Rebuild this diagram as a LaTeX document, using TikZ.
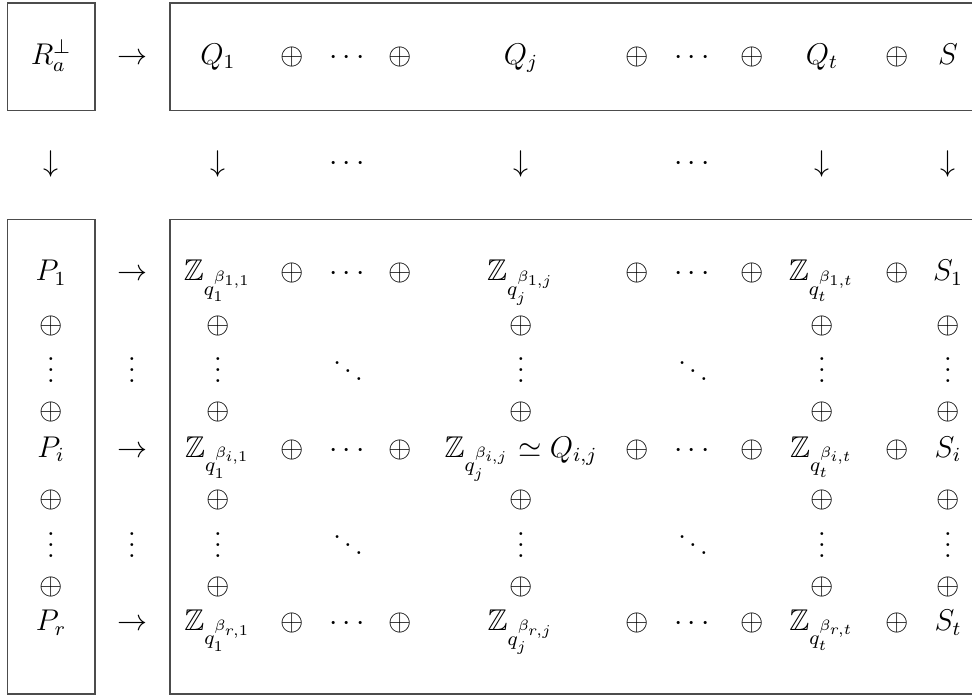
\documentclass[tikz,border=0pt]{standalone}
\usepackage{amssymb}
\newcommand\myvd{\vbox{\baselineskip4.4pt\lineskiplimit0pt\hbox{.}\hbox{.}\hbox{.}}}
\newcommand\mydd{\hbox{\raise7.4pt\hbox{.}\kern1.1pt\raise4.2pt\hbox{.}\kern1.1pt\raise1pt\hbox{.}}}
\begin{document}
\begin{tikzpicture}[x=0.4pt,y=-0.4pt,
  every node/.style={font=\fontsize{12}{14}\selectfont, inner sep=0pt},
  bx/.style={draw=black!70, line width=0.55pt},
  bl/.style={anchor=base},
  ct/.style={anchor=center}]
\useasboundingbox (0,0) rectangle (972,698);
\begin{scope}
\clip (0,0) rectangle (972,698);
\draw[bx] (7.5,3) rectangle (95,110.5);
\draw[bx] (170,3) rectangle (1000,110.5);
\draw[bx] (7.5,219.5) rectangle (95,694);
\draw[bx] (170,219.5) rectangle (1000,694);
\end{scope}
% top row
\node[bl] (ra)   at (51,64.5)  {$R_a^{\perp}$};
\node[bl] (ar0)  at (132,64.5) {$\rightarrow$};
\node[bl] (q1)   at (218,64.5) {$Q_1$};
\node[bl] (o01)  at (292,64.5) {$\oplus$};
\node[bl] (c01)  at (347,64.5) {$\cdots$};
\node[bl] (o02)  at (400,64.5) {$\oplus$};
\node[bl] (qj)   at (521,64.5) {$Q_j$};
\node[bl] (o03)  at (637,64.5) {$\oplus$};
\node[bl] (c02)  at (692,64.5) {$\cdots$};
\node[bl] (o04)  at (752,64.5) {$\oplus$};
\node[bl] (qt)   at (822,64.5) {$Q_t$};
\node[bl] (o05)  at (897,64.5) {$\oplus$};
\node[bl] (s)    at (948,64.5) {$S$};
% down arrows row
\node[ct] (d1) at (51,164)  {$\downarrow$};
\node[ct] (d2) at (218,164) {$\downarrow$};
\node[ct] (dc1) at (347,164) {$\cdots$};
\node[ct] (d3) at (521,164) {$\downarrow$};
\node[ct] (dc2) at (692,164) {$\cdots$};
\node[ct] (d4) at (822,164) {$\downarrow$};
\node[ct] (d5) at (948,164) {$\downarrow$};
% row 1
\node[bl] (p1)   at (51,281)  {$P_1$};
\node[bl] (a1)   at (132,281) {$\rightarrow$};
\node[bl] (z11)  at (218,281) {$\mathbb{Z}_{q_1^{\beta_{1,1}}}$};
\node[bl] (o11)  at (292,281) {$\oplus$};
\node[bl] (c11)  at (347,281) {$\cdots$};
\node[bl] (o12)  at (400,281) {$\oplus$};
\node[bl] (z1j)  at (521,281) {$\mathbb{Z}_{q_j^{\beta_{1,j}}}$};
\node[bl] (o13)  at (637,281) {$\oplus$};
\node[bl] (c12)  at (692,281) {$\cdots$};
\node[bl] (o14)  at (752,281) {$\oplus$};
\node[bl] (z1t)  at (822,281) {$\mathbb{Z}_{q_t^{\beta_{1,t}}}$};
\node[bl] (o15)  at (897,281) {$\oplus$};
\node[bl] (s1)   at (948,281) {$S_1$};
% oplus rows
\foreach \yy/\nm in {326/a,412/b,500/c,587/d}{
  \node[ct] (u1\nm) at (51,\yy)  {$\oplus$};
  \node[ct] (u2\nm) at (218,\yy) {$\oplus$};
  \node[ct] (u3\nm) at (521,\yy) {$\oplus$};
  \node[ct] (u4\nm) at (822,\yy) {$\oplus$};
  \node[ct] (u5\nm) at (948,\yy) {$\oplus$};
}
% vdots rows
\foreach \yy/\nm in {383/a,557/b}{
  \node[bl] (v1\nm) at (51,\yy)  {\myvd};
  \node[bl] (v2\nm) at (132,\yy) {\myvd};
  \node[bl] (v3\nm) at (218,\yy) {\myvd};
  \node[bl] (w1\nm) at (348,\yy) {\mydd};
  \node[bl] (v4\nm) at (521,\yy) {\myvd};
  \node[bl] (w2\nm) at (693,\yy) {\mydd};
  \node[bl] (v5\nm) at (822,\yy) {\myvd};
  \node[bl] (v6\nm) at (948,\yy) {\myvd};
}
% row i
\node[bl] (pi)   at (51,457)  {$P_i$};
\node[bl] (ai)   at (132,457) {$\rightarrow$};
\node[bl] (zi1)  at (218,457) {$\mathbb{Z}_{q_1^{\beta_{i,1}}}$};
\node[bl] (oi1)  at (292,457) {$\oplus$};
\node[bl] (ci1)  at (347,457) {$\cdots$};
\node[bl] (oi2)  at (400,457) {$\oplus$};
\node[bl] (zij)  at (521,457) {$\mathbb{Z}_{q_j^{\beta_{i,j}}} \simeq Q_{i,j}$};
\node[bl] (oi3)  at (637,457) {$\oplus$};
\node[bl] (ci2)  at (692,457) {$\cdots$};
\node[bl] (oi4)  at (752,457) {$\oplus$};
\node[bl] (zit)  at (822,457) {$\mathbb{Z}_{q_t^{\beta_{i,t}}}$};
\node[bl] (oi5)  at (897,457) {$\oplus$};
\node[bl] (si)   at (948,457) {$S_i$};
% row r
\node[bl] (pr)   at (51,630.5)  {$P_r$};
\node[bl] (ar)   at (132,630.5) {$\rightarrow$};
\node[bl] (zr1)  at (218,630.5) {$\mathbb{Z}_{q_1^{\beta_{r,1}}}$};
\node[bl] (or1)  at (292,630.5) {$\oplus$};
\node[bl] (cr1)  at (347,630.5) {$\cdots$};
\node[bl] (or2)  at (400,630.5) {$\oplus$};
\node[bl] (zrj)  at (521,630.5) {$\mathbb{Z}_{q_j^{\beta_{r,j}}}$};
\node[bl] (or3)  at (637,630.5) {$\oplus$};
\node[bl] (cr2)  at (692,630.5) {$\cdots$};
\node[bl] (or4)  at (752,630.5) {$\oplus$};
\node[bl] (zrt)  at (822,630.5) {$\mathbb{Z}_{q_t^{\beta_{r,t}}}$};
\node[bl] (or5)  at (897,630.5) {$\oplus$};
\node[bl] (sr)   at (948,630.5) {$S_t$};
\end{tikzpicture}
\end{document}
